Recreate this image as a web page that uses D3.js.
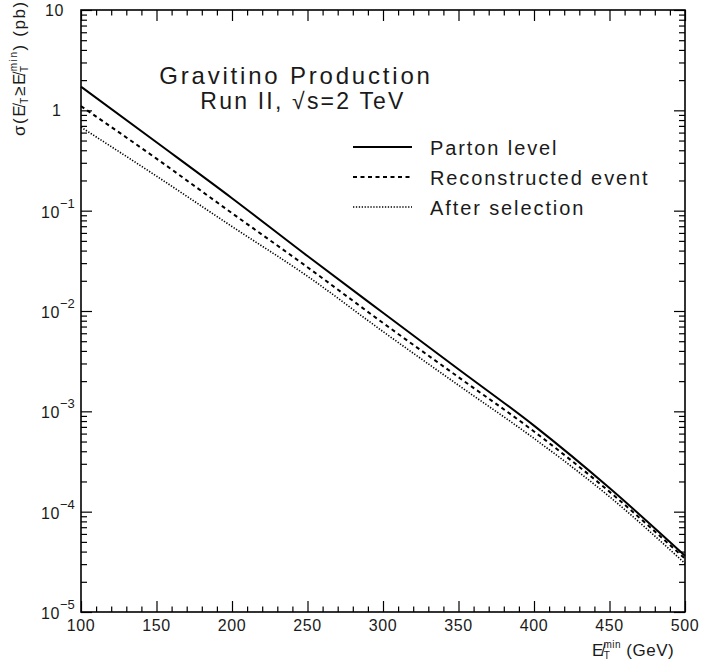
<!DOCTYPE html>
<html>
<head>
<meta charset="utf-8">
<script src="https://cdn.jsdelivr.net/npm/d3@7"></script>
<style>
  body { margin: 0; background: #fff; }
  svg { display: block; }
  text { font-family: "Liberation Sans", "DejaVu Sans", sans-serif; fill: #1a1a1a; }
</style>
</head>
<body>
<svg id="chart" width="701" height="666"></svg>
<script>
// ---- data ----
const etMin = [100, 150, 200, 250, 300, 350, 400, 450, 500];
const partonLevel   = [1.72, 0.48, 0.133, 0.0353, 0.0096, 0.00263, 0.00072, 0.000172, 0.0000363];
const reconstructed = [1.10, 0.33, 0.0944, 0.0273, 0.0076, 0.00219, 0.00063, 0.000158, 0.0000340];
const afterSel      = [0.68, 0.221, 0.0695, 0.0222, 0.00624, 0.00182, 0.000537, 0.000141, 0.0000305];
const seriesNames = ["Parton level", "Reconstructed event", "After selection"];
const xTickValues = [100, 150, 200, 250, 300, 350, 400, 450, 500];
const yTickExponents = [1, 0, -1, -2, -3, -4, -5];

// ---- layout ----
const L = 81, R = 685, T = 10, B = 612;
const svg = d3.select("#chart");

const x = d3.scaleLinear().domain([100, 500]).range([L, R]);
const y = d3.scaleLog().domain([1e-5, 10]).range([B, T]);

// frame
svg.append("rect").attr("x", L).attr("y", T).attr("width", R - L).attr("height", B - T)
  .attr("fill", "none").attr("stroke", "#000").attr("stroke-width", 1.6);

function styleAxis(g) {
  g.select(".domain").remove();
  g.selectAll(".tick line").attr("stroke", "#000").attr("stroke-width", 1.2);
  g.selectAll("text").remove();
}
const xMinor = d3.range(100, 501, 10).filter(v => v % 50 !== 0);
const yMajor = yTickExponents.map(e => Math.pow(10, e));
const yMinor = y.ticks().filter(v => {
  const m = v / Math.pow(10, Math.floor(Math.log10(v) + 1e-9));
  return Math.abs(m - 1) > 1e-6;
});

// bottom
svg.append("g").attr("transform", `translate(0,${B})`)
  .call(d3.axisBottom(x).tickValues(xTickValues).tickSize(-11)).call(styleAxis);
svg.append("g").attr("transform", `translate(0,${B})`)
  .call(d3.axisBottom(x).tickValues(xMinor).tickSize(-5.5)).call(styleAxis);
// top
svg.append("g").attr("transform", `translate(0,${T})`)
  .call(d3.axisTop(x).tickValues(xTickValues).tickSize(-11)).call(styleAxis);
svg.append("g").attr("transform", `translate(0,${T})`)
  .call(d3.axisTop(x).tickValues(xMinor).tickSize(-5.5)).call(styleAxis);
// left
svg.append("g").attr("transform", `translate(${L},0)`)
  .call(d3.axisLeft(y).tickValues(yMajor).tickSize(-11)).call(styleAxis);
svg.append("g").attr("transform", `translate(${L},0)`)
  .call(d3.axisLeft(y).tickValues(yMinor).tickSize(-6)).call(styleAxis);
// right
svg.append("g").attr("transform", `translate(${R},0)`)
  .call(d3.axisRight(y).tickValues(yMajor).tickSize(-11)).call(styleAxis);
svg.append("g").attr("transform", `translate(${R},0)`)
  .call(d3.axisRight(y).tickValues(yMinor).tickSize(-6)).call(styleAxis);

// x tick labels
svg.append("g").selectAll("text").data(xTickValues).join("text")
  .attr("x", d => x(d)).attr("y", B + 19)
  .attr("text-anchor", "middle").attr("font-size", 16).attr("letter-spacing", 0.6)
  .text(d => d);

// y tick labels
const yl = svg.append("g");
yTickExponents.forEach(e => {
  const yy = y(Math.pow(10, e));
  if (e === 0) {
    yl.append("text").attr("x", 61).attr("y", yy + 6).attr("text-anchor", "end")
      .attr("font-size", 16).text("1");
  } else if (e === 1) {
    yl.append("text").attr("x", 64).attr("y", yy + 6).attr("text-anchor", "end")
      .attr("font-size", 16).attr("letter-spacing", 0.6).text("10");
  } else {
    yl.append("text").attr("x", 60).attr("y", yy + 7).attr("text-anchor", "end")
      .attr("font-size", 16).attr("letter-spacing", 0.6).text("10");
    yl.append("text").attr("x", 60).attr("y", yy - 3).attr("text-anchor", "start")
      .attr("font-size", 13).text("\u2212" + Math.abs(e));
  }
});

// curves
const line = d3.line().curve(d3.curveMonotoneX).x((d, i) => x(etMin[i])).y(d => y(d));
const styles = [
  { data: partonLevel, dash: null, w: 2 },
  { data: reconstructed, dash: "4,3.5", w: 2 },
  { data: afterSel, dash: "1.3,1.6", w: 1.6 }
];
styles.forEach(s => {
  svg.append("path").datum(s.data).attr("d", line)
    .attr("fill", "none").attr("stroke", "#000").attr("stroke-width", s.w)
    .attr("stroke-dasharray", s.dash);
});

// legend
const lg = svg.append("g");
seriesNames.forEach((name, i) => {
  const yy = 147 + i * 30;
  lg.append("line").attr("x1", 353).attr("x2", 412).attr("y1", yy).attr("y2", yy)
    .attr("stroke", "#000").attr("stroke-width", styles[i].w)
    .attr("stroke-dasharray", styles[i].dash);
  lg.append("text").attr("x", 430).attr("y", yy + 8).attr("font-size", 20)
    .attr("letter-spacing", 1.9).text(name);
});

// title
svg.append("text").attr("x", 296).attr("y", 84).attr("text-anchor", "middle")
  .attr("font-size", 24).attr("letter-spacing", 2.8).text("Gravitino Production");
svg.append("text").attr("x", 303).attr("y", 109).attr("text-anchor", "middle")
  .attr("font-size", 23).attr("letter-spacing", 2.2).text("Run II, \u221As=2 TeV");

// x axis title
const xt = svg.append("text").attr("x", 592).attr("y", 656).attr("font-size", 17).attr("letter-spacing", 0.5);
xt.append("tspan").text("E\u0338");
xt.append("tspan").attr("font-size", 10).attr("dy", 3).text("T");
xt.append("tspan").attr("font-size", 10).attr("dx", -7).attr("dy", -11).text("min");
xt.append("tspan").attr("dy", 8).text(" (GeV)");

// y axis title
const ytg = svg.append("text").attr("transform", "translate(25,136) rotate(-90)")
  .attr("font-size", 17).attr("letter-spacing", 1.6);
ytg.append("tspan").text("\u03C3(");
ytg.append("tspan").text("E\u0338");
ytg.append("tspan").attr("font-size", 10).attr("dy", 3).text("T");
ytg.append("tspan").attr("dy", -3).text("\u2265");
ytg.append("tspan").text("E\u0338");
ytg.append("tspan").attr("font-size", 10).attr("dy", 3).text("T");
ytg.append("tspan").attr("font-size", 10).attr("dx", -7).attr("dy", -11).text("min");
ytg.append("tspan").attr("dy", 8).text(") (pb)");
</script>
</body>
</html>
